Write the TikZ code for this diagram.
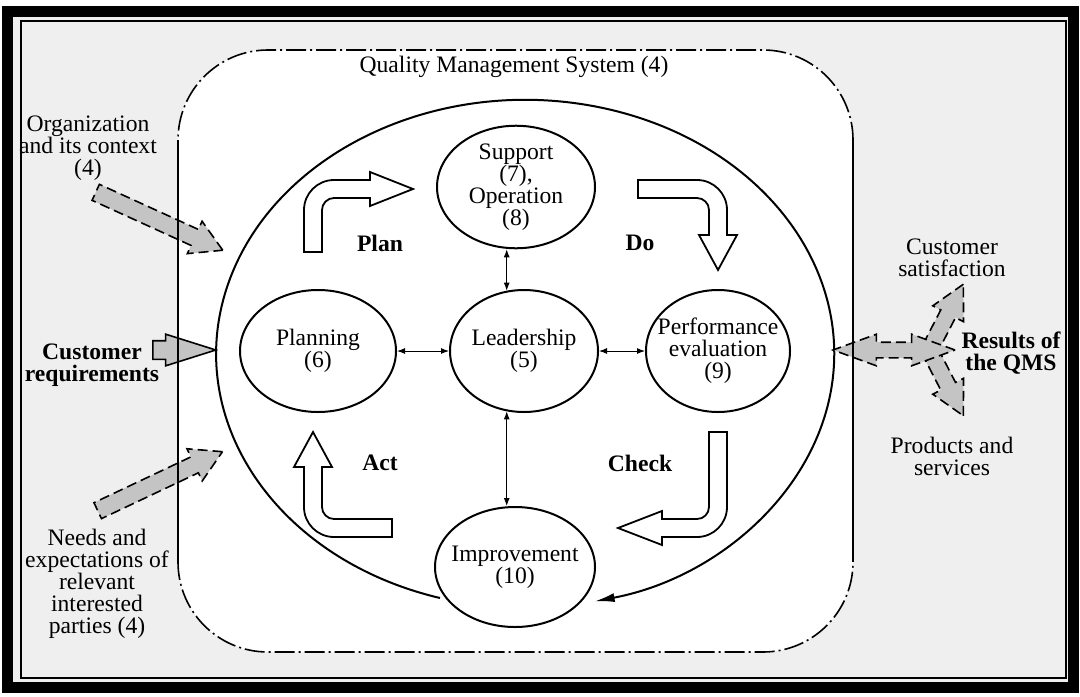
\documentclass[tikz,border=0pt]{standalone}
\usepackage{fontspec}
\setmainfont{Liberation Serif}
\usepackage{tikz}
\usepackage{xcolor}
\usetikzlibrary{shapes.geometric, shapes.arrows, arrows.meta, positioning}
\definecolor{qmsBack}{HTML}{EFEFEF}
\definecolor{qmsGray}{HTML}{C4C4C4}

\begin{document}
\begin{tikzpicture}[x=0.5pt, y=-0.5pt, font=\fontsize{11.8}{11}\selectfont]
        % Styles
        \tikzstyle{phase} = [ellipse, draw=black, line width=1pt, fill=white, minimum width=76pt, minimum height=61pt, align=center, inner xsep=-8pt, inner ysep=0pt]
        \tikzstyle{turn} = [draw=black, line width=0.9pt, fill=white]
        \tikzstyle{link} = [line width=0.5pt, {Latex[length=4pt,width=3pt]}-{Latex[length=4pt,width=3pt]}]
        \tikzstyle{feed} = [single arrow, draw=black, dash pattern=on 5pt off 2.5pt, fill=qmsGray, line width=0.8pt, inner xsep=0pt, single arrow head indent=0pt, anchor=tail]
        \tikzstyle{side} = [align=center, text=black]
        \tikzstyle{pdca} = [font=\fontsize{11.8}{11}\selectfont\bfseries]

        % Background
        \useasboundingbox (0,0) rectangle (1080,696);
        \fill[white] (0,0) rectangle (1080,696);
        \fill[qmsBack] (10,12) rectangle (1070,685);
        \draw[fill=white, line width=0.8pt, dash pattern=on 10pt off 2pt on 1pt off 2pt, rounded corners=45pt] (178,50) rectangle (853,652);
        \node (qms) at (514,67) {Quality Management System (4)};

        % Loop
        \coordinate (loopstart) at (440,598);
        \draw[line width=1pt, -{Latex[length=10pt,width=4.5pt]}] (loopstart) arc[start angle=106, end angle=437, x radius=309, y radius=254];

        % Turning arrows
        \draw[turn] (304,252) -- (304,210) arc[start angle=180, end angle=270, radius=30] -- (370,180) -- (370,172) -- (413,189) -- (370,206) -- (370,198) -- (334,198) arc[start angle=270, end angle=180, radius=12] -- (322,252) -- cycle;
        \draw[turn] (638,180) -- (697,180) arc[start angle=270, end angle=360, radius=30] -- (727,235) -- (737,235) -- (718,270) -- (699,235) -- (709,235) -- (709,210) arc[start angle=0, end angle=-90, radius=12] -- (638,198) -- cycle;
        \draw[turn] (709,432) -- (727,432) -- (727,507) arc[start angle=0, end angle=90, radius=30] -- (662,537) -- (662,545) -- (618,528) -- (662,511) -- (662,519) -- (697,519) arc[start angle=90, end angle=0, radius=12] -- cycle;
        \draw[turn] (392,537) -- (334,537) arc[start angle=90, end angle=180, radius=30] -- (304,467) -- (294,467) -- (313,432) -- (332,467) -- (322,467) -- (322,507) arc[start angle=180, end angle=90, radius=12] -- (392,519) -- cycle;

        \node[pdca] (plantxt) at (380,243) {Plan};
        \node[pdca] (dotxt) at (640,243) {Do};
        \node[pdca] (acttxt) at (380,463) {Act};
        \node[pdca] (checktxt) at (640,463) {Check};

        % Nodes
        \node (lead) [phase, minimum width=74pt] at (524,351) {Leadership\\(5)};
        \node (supp) [phase, above of=lead, node distance=82pt, xshift=-4pt, minimum width=79pt, minimum height=60pt] {Support\\(7),\\Operation\\(8)};
        \node (plan) [phase, left of=lead, node distance=103pt, minimum width=78pt] {Planning\\(6)};
        \node (perf) [phase, right of=lead, node distance=97pt, minimum width=72pt] {Performance\\evaluation\\(9)};
        \node (impr) [phase, below of=lead, node distance=108pt, xshift=-4.5pt, minimum width=80pt, minimum height=60pt] {Improvement\\(10)};

        % Links
        \draw [link] (plan) -- (lead);
        \draw [link] (lead) -- (perf);
        \draw [link] (lead.106) -- (lead.106 |- supp.south);
        \draw [link] (lead.254) -- (lead.254 |- impr.north);

        % Inputs (Left)
        \node [side] (org) at (88,148) {Organization\\and its context\\(4)};
        \node [side, pdca] (cust) at (92,365) {Customer\\requirements};
        \node [side] (needs) at (97,584) {Needs and\\expectations of\\relevant\\interested\\parties (4)};

        \node [feed, rotate=-24.5, minimum height=69.8pt, inner ysep=4pt, single arrow head extend=4.5pt, single arrow tip angle=60] (orgarrow) at (95,192) {};
        \node [feed, solid, minimum height=31.5pt, inner ysep=4.25pt, single arrow head extend=3.25pt, single arrow tip angle=35] (custarrow) at (152,350) {};
        \node [feed, rotate=25.3, minimum height=69pt, inner ysep=4pt, single arrow head extend=4.5pt, single arrow tip angle=60] (needsarrow) at (97,511) {};

        % Outputs (Right)
        \node [side] (sat) at (952,258) {Customer\\satisfaction};
        \node [side, pdca] (res) at (1011,353) {Results of\\the QMS};
        \node [side] (prod) at (952,456) {Products and\\services};

        \node [feed, rotate=62.7, minimum height=33.8pt, inner ysep=3.75pt, single arrow head extend=4.5pt, single arrow tip angle=55] (satarrow) at (932,345) {};
        \node [feed, rotate=-62.7, minimum height=33.8pt, inner ysep=3.75pt, single arrow head extend=4.5pt, single arrow tip angle=55] (prodarrow) at (932,355) {};
        \node [double arrow, draw=black, dash pattern=on 5pt off 2.5pt, fill=qmsGray, line width=0.8pt, inner xsep=0pt, inner ysep=3.5pt, minimum height=61pt, double arrow head extend=4pt, double arrow tip angle=40] (resarrow) at (894,350) {};

        % QMS sides
        \draw[line width=0.8pt] (178,140) -- (178,562);
        \draw[line width=0.8pt] (853,140) -- (853,562);

        % Frame
        \draw[line width=5.5pt] (7,11) rectangle (1073,687);
        \draw[line width=0.8pt] (21,21) rectangle (1066,678);
    \end{tikzpicture}
\end{document}
